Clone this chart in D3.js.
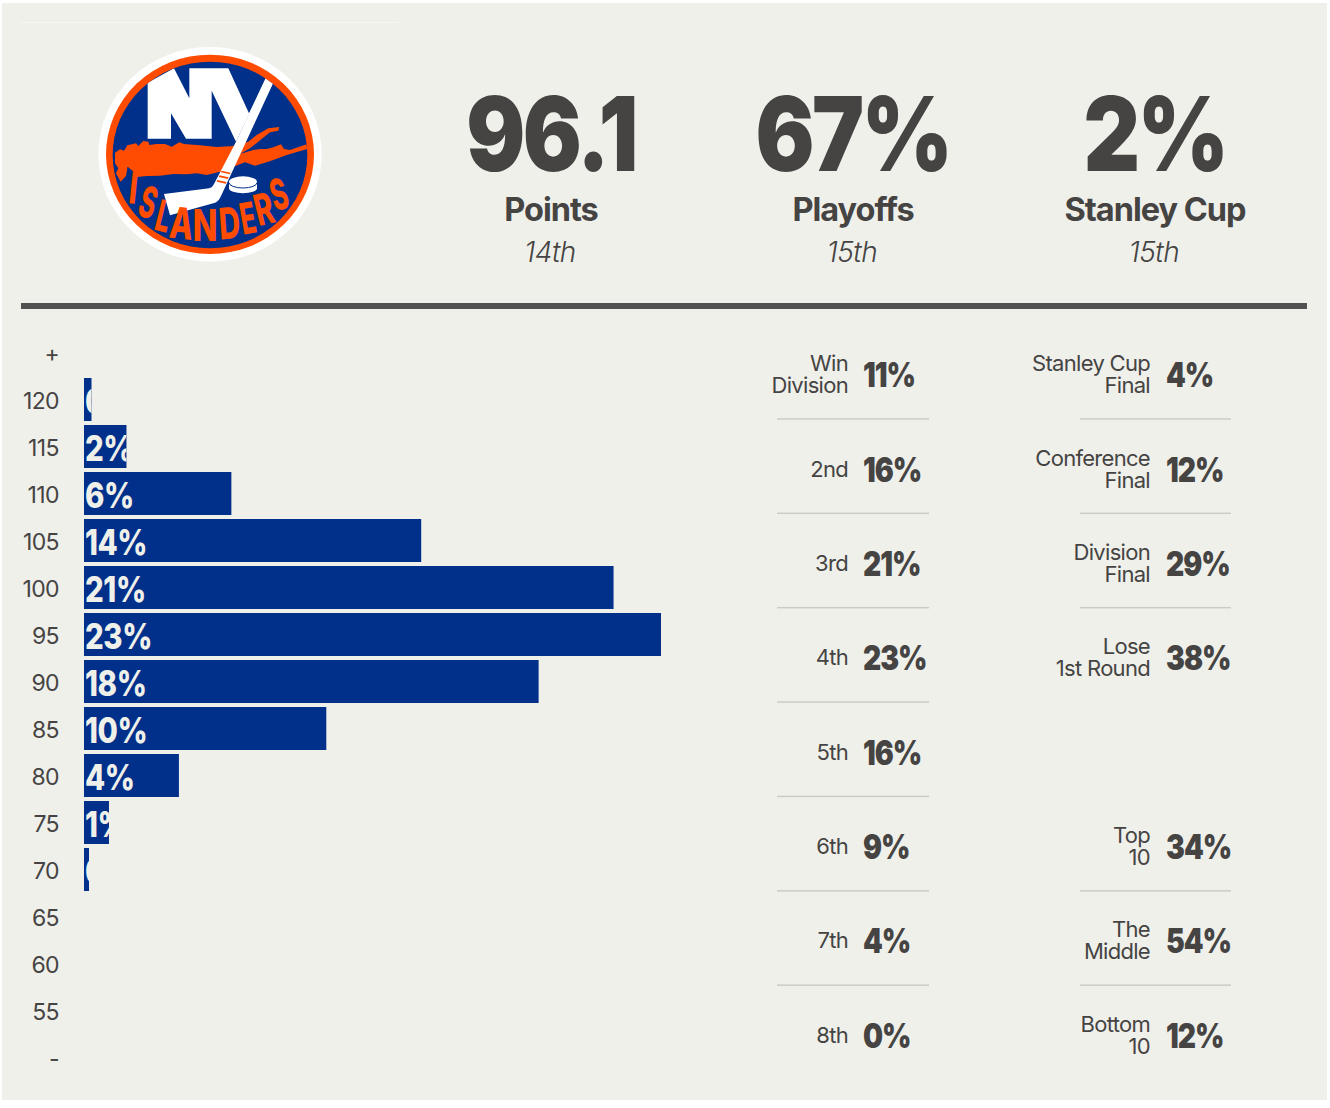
<!DOCTYPE html>
<html>
<head>
<meta charset="utf-8">
<script src="https://cdn.jsdelivr.net/npm/d3@7"></script>
<style>
  html, body { margin: 0; padding: 0; background: #fff; }
  svg { display: block; }
  text { font-family: Inter, "Noto Sans", sans-serif; fill: #454443; }
</style>
</head>
<body>
<div id="container"></div>
<script>
/** DATA */
const pointBands = ["+", "120", "115", "110", "105", "100", "95", "90", "85", "80", "75", "70", "65", "60", "55", "-"];
const pointShares = [null, 0.3, 1.7, 5.9, 13.5, 21.2, 23.1, 18.2, 9.7, 3.8, 1.0, 0.2, null, null, null, null];

const headlineValues = ["96.1", "67%", "2%"];
const headlineNames = ["Points", "Playoffs", "Stanley Cup"];
const headlineRanks = ["14th", "15th", "15th"];

const seedLabels = ["Win|Division", "2nd", "3rd", "4th", "5th", "6th", "7th", "8th"];
const seedShares = [11, 16, 21, 23, 16, 9, 4, 0];

const outcomeLabels = ["Stanley Cup|Final", "Conference|Final", "Division|Final", "Lose|1st Round", null, "Top|10", "The|Middle", "Bottom|10"];
const outcomeShares = [4, 12, 29, 38, null, 34, 54, 12];

/** CONSTANTS AND GLOBALS */
const width = 1330, height = 1108;
const blue = "#00308a", orange = "#ff4c00", ink = "#454443";

const svg = d3.select("#container").append("svg")
  .attr("width", width)
  .attr("height", height);

svg.append("rect")
  .attr("x", 2).attr("y", 3)
  .attr("width", 1325).attr("height", 1097)
  .attr("fill", "#f0f0eb");

// faint line over the logo box, heavy rule under the header
svg.append("rect").attr("x", 21).attr("y", 22).attr("width", 378).attr("height", 1).attr("fill", "#f6f6f2");
svg.append("rect").attr("x", 21).attr("y", 303).attr("width", 1286).attr("height", 6).attr("fill", "#515151");

/** HEADER */
const headX = d3.scaleOrdinal().domain(headlineNames).range([551, 853, 1155]);

const head = svg.selectAll(".head")
  .data(headlineNames)
  .join("g")
  .attr("class", "head")
  .attr("transform", d => `translate(${headX(d)},0)`)
  .attr("text-anchor", "middle");

head.append("text")
  .attr("transform", "translate(0,171) scale(0.85,1)")
  .attr("font-size", 103)
  .attr("font-weight", 900)
  .attr("letter-spacing", -3)
  .text((d, i) => headlineValues[i]);

head.append("text")
  .attr("y", 221)
  .attr("font-size", 32.5)
  .attr("font-weight", 700)
  .attr("letter-spacing", -1)
  .text(d => d);

head.append("text")
  .attr("x", -1)
  .attr("y", 262)
  .attr("font-size", 28)
  .attr("font-style", "italic")
  .attr("font-weight", 300)
  .attr("letter-spacing", -0.5)
  .text((d, i) => headlineRanks[i]);

/** BAR CHART */
const y = d3.scaleBand()
  .domain(pointBands)
  .range([329, 1081])
  .paddingInner(4 / 47)
  .paddingOuter(2 / 47);

const x = d3.scaleLinear().domain([0, 23.1]).range([84, 661]);

const yAxis = svg.append("g")
  .attr("transform", "translate(59,2)")
  .call(d3.axisLeft(y).tickSize(0).tickPadding(0));
yAxis.select(".domain").remove();
yAxis.selectAll("text")
  .attr("font-size", 23)
  .attr("font-family", "Inter, sans-serif")
  .attr("fill", ink)
  .attr("letter-spacing", -0.6);

const barData = pointBands
  .map((band, i) => ({ band, share: pointShares[i] }))
  .filter(d => d.share !== null);

const bars = svg.selectAll(".bar")
  .data(barData)
  .join("g")
  .attr("class", "bar");

bars.append("clipPath")
  .attr("id", (d, i) => `bar-clip-${i}`)
  .append("rect")
  .attr("x", x(0))
  .attr("y", d => y(d.band))
  .attr("width", d => x(d.share) - x(0))
  .attr("height", y.bandwidth());

bars.append("rect")
  .attr("x", x(0))
  .attr("y", d => y(d.band))
  .attr("width", d => x(d.share) - x(0))
  .attr("height", y.bandwidth())
  .attr("fill", blue);

// label runs past short bars in the original and gets cut off
bars.append("g")
  .attr("clip-path", (d, i) => `url(#bar-clip-${i})`)
  .append("text")
  .attr("transform", d => `translate(${x(0) + 1},${y(d.band) + y.bandwidth() / 2 + 14}) scale(0.84,1)`)
  .attr("font-size", 35)
  .attr("font-weight", 800)
  .attr("letter-spacing", -0.5)
  .style("fill", "#f0f0eb")
  .text(d => `${Math.round(d.share)}%`);

/** TABLES */
const rowIdx = d3.range(8);
const row = d3.scaleBand().domain(rowIdx).range([328, 1083]);

function drawTable(labels, shares, labelX, valueX, ruleX0, ruleX1) {
  const g = svg.append("g");
  const cells = g.selectAll(".cell")
    .data(rowIdx.filter(i => labels[i] !== null))
    .join("g")
    .attr("class", "cell")
    .attr("transform", i => `translate(0,${row(i) + row.bandwidth() / 2})`);

  cells.append("text")
    .attr("x", labelX)
    .attr("text-anchor", "end")
    .attr("font-size", 22)
    .attr("letter-spacing", -0.7)
    .selectAll("tspan")
    .data(i => {
      const lines = labels[i].split("|");
      return lines.map((t, k) => ({ t, dy: lines.length === 1 ? 7 : (k === 0 ? -4 : 22) }));
    })
    .join("tspan")
    .attr("x", labelX)
    .attr("dy", d => d.dy)
    .text(d => d.t);

  cells.append("text")
    .attr("transform", `translate(${valueX},12) scale(0.83,1)`)
    .attr("font-size", 34)
    .attr("font-weight", 900)
    .attr("letter-spacing", -1.2)
    .text(i => `${shares[i]}%`);

  g.selectAll(".rule")
    .data(rowIdx.slice(0, -1).filter(i => labels[i] !== null && labels[i + 1] !== null))
    .join("rect")
    .attr("class", "rule")
    .attr("x", ruleX0)
    .attr("width", ruleX1 - ruleX0)
    .attr("y", i => row(i) + row.bandwidth() / 2 + 43)
    .attr("height", 1.5)
    .attr("fill", "#cdcbc6");
}

drawTable(seedLabels, seedShares, 848, 863, 777, 929);
drawTable(outcomeLabels, outcomeShares, 1150, 1166, 1080, 1231);

/** LOGO - drawn in 3x crop coordinates, hence the scale */
const logo = svg.append("g").attr("transform", "scale(0.33333)");

logo.append("ellipse").attr("cx", 630).attr("cy", 463).attr("rx", 335).attr("ry", 322).attr("fill", "#fff");
logo.append("ellipse").attr("cx", 630).attr("cy", 463).attr("rx", 312).attr("ry", 299).attr("fill", orange);
logo.append("ellipse").attr("cx", 630).attr("cy", 465).attr("rx", 292).attr("ry", 280).attr("fill", blue);

logo.append("clipPath").attr("id", "logo-clip")
  .append("ellipse").attr("cx", 630).attr("cy", 465).attr("rx", 292).attr("ry", 280);

const inner = logo.append("g").attr("clip-path", "url(#logo-clip)");

// long island
inner.append("path").attr("fill", orange).attr("d",
  "M345,458 L360,448 L372,452 L382,436 L408,430 L415,438 L430,423 L445,425 L448,435 L470,432 L495,432 L515,440 L538,427 L552,432 L600,436 L650,441 L700,438 L745,425 L770,405 L805,385 L838,381 L835,392 L810,397 L775,425 L750,445 L720,462 L760,450 L780,447 L800,447 L820,442 L843,433 L852,447 L870,450 L920,433 L922,447 L860,465 L820,480 L790,490 L765,497 L735,487 L700,500 L660,515 L620,525 L590,520 L560,523 L520,522 L480,527 L440,528 L405,532 L383,500 L378,528 L362,545 L348,520 L355,505 L345,490 Z");
inner.append("path").attr("fill", blue).attr("d", "M383,500 L404,518 L404,540 L386,540 Z");

// stick
inner.append("path").attr("fill", "#fff").attr("d",
  "M798,232 L820,248 L662,590 Q655,606 640,610 L510,646 L492,582 L628,565 Q638,562 642,552 L708,425 Z");
inner.selectAll(".tape")
  .data([510, 524, 538])
  .join("path")
  .attr("class", "tape")
  .attr("fill", orange)
  .attr("d", d => `M${652 + (538 - d) * 0.45},${d + 2} L${692 - (d - 510) * 0.45},${d + 8} L${690 - (d - 510) * 0.45},${d + 13} L${650 + (538 - d) * 0.45},${d + 7} Z`);

// NY letters
inner.append("path").attr("fill", "#fff").attr("d",
  "M443,248 L522,205 L568,295 L568,205 L685,205 L747,340 L800,232 L708,425 L635,272 L635,416 L558,416 L513,340 L513,416 L443,416 Z");

// puck
inner.append("path").attr("fill", "#fff").attr("d",
  "M687,545 A42,16 0 0 1 771,545 L771,565 A42,15 0 0 1 687,565 Z");
inner.append("path").attr("fill", "none").attr("stroke", blue).attr("stroke-width", 3)
  .attr("d", "M687,548 A42,16 0 0 0 771,548");

// wordmark: letter, x, baseline, rotation, x stretch
const wordmark = [
  ["I", 396, 610, 6, 1.05], ["S", 432, 652, 16, 0.9], ["L", 480, 694, 14, 0.9], ["A", 540, 716, 6, 1.1], ["N", 615, 722, 0, 1.15],
  ["D", 692, 716, -4, 1.05], ["E", 752, 700, -10, 0.9], ["R", 803, 672, -14, 1], ["S", 850, 628, -16, 0.9]
];
inner.selectAll(".wordmark")
  .data(wordmark)
  .join("text")
  .attr("class", "wordmark")
  .attr("transform", d => `translate(${d[1]},${d[2]}) rotate(${d[3]}) scale(${d[4]},1.55)`)
  .attr("text-anchor", "middle")
  .attr("font-size", 84)
  .attr("font-weight", 800)
  .style("fill", orange)
  .text(d => d[0]);
</script>
</body>
</html>
